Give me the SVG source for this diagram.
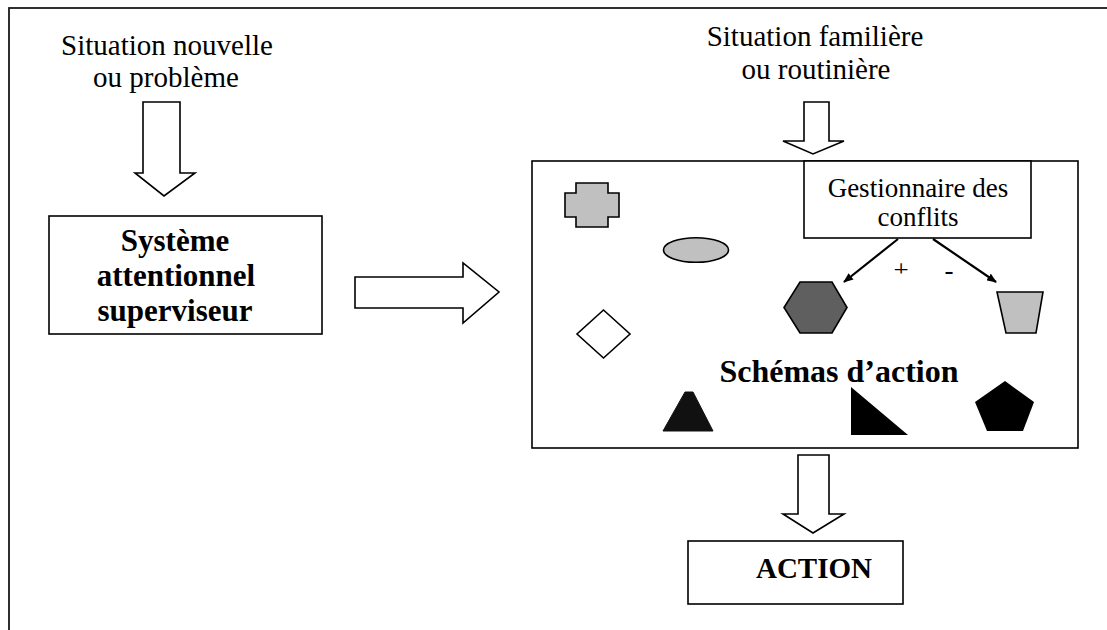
<svg xmlns="http://www.w3.org/2000/svg" width="1107" height="630" viewBox="0 0 1107 630">
<style>
text{font-family:'Liberation Serif','Times New Roman','DejaVu Serif',serif;fill:#000;text-anchor:middle}
.b{font-weight:bold}
.box{fill:#fff;stroke:#000;stroke-width:1.6}
.blk{fill:#fff;stroke:#000;stroke-width:1.6;stroke-linejoin:miter}
.sh{stroke:#000;stroke-width:1.6;stroke-linejoin:miter}
.ln{stroke:#000;stroke-width:2.2;fill:none}
</style>
<defs>
<marker id="ah" markerWidth="10" markerHeight="8" refX="9" refY="4" orient="auto" markerUnits="userSpaceOnUse" viewBox="0 0 10 8">
<path d="M0,0 L10,4 L0,8 Z" fill="#000"/>
</marker>
<clipPath id="plusclip"><rect x="880" y="250" width="40" height="23.5"/></clipPath>
</defs>
<rect width="1107" height="630" fill="#fff"/>
<rect id="frame" x="9" y="8" width="1120" height="640" fill="none" stroke="#1a1a1a" stroke-width="1.8"/>

<g id="label-nouvelle">
<text x="167" y="55" font-size="29">Situation nouvelle</text>
<text x="166" y="87" font-size="29">ou problème</text>
</g>
<g id="label-familiere">
<text x="815" y="46" font-size="29">Situation familière</text>
<text x="816" y="79" font-size="29">ou routinière</text>
</g>

<g id="sas">
<rect class="box" x="49" y="216" width="273" height="118"/>
<text class="b" x="175" y="251" font-size="31">Système</text>
<text class="b" x="176" y="286" font-size="31">attentionnel</text>
<text class="b" x="175" y="321" font-size="31">superviseur</text>
</g>

<g id="schemas">
<rect class="box" x="532" y="161" width="546" height="287"/>
<text class="b" x="839" y="382" font-size="32">Schémas d’action</text>
</g>

<g id="gestionnaire">
<rect class="box" x="804" y="161" width="227" height="77"/>
<text x="918" y="197" font-size="27">Gestionnaire des</text>
<text x="918" y="226" font-size="27">conflits</text>
</g>

<g id="shape-cross"><path class="sh" fill="#c0c0c0" d="M576,183 H608 V193 H619 V217 H608 V227 H576 V217 H565 V193 H576 Z"/></g>
<g id="shape-ellipse"><ellipse class="sh" fill="#c0c0c0" cx="696" cy="250" rx="32.5" ry="12.3"/></g>
<g id="shape-hexagon"><polygon class="sh" fill="#5f5f5f" points="800,282 832,282 847,307.5 832,333 800,333 784,307.5"/></g>
<g id="shape-diamond"><polygon class="sh" fill="#fff" points="603.5,310 630,334 603.5,358 577,334"/></g>
<g id="shape-trapezoid"><polygon class="sh" fill="#c0c0c0" points="997,292 1043,292 1036,333 1006,333"/></g>
<g id="shape-triangle"><polygon fill="#111" stroke="#111" stroke-width="1" points="685,392 693,392 713,431 663,431"/></g>
<g id="shape-righttriangle"><polygon fill="#000" points="851,387 908,435 851,435"/></g>
<g id="shape-pentagon"><polygon fill="#000" points="1005,381 1034,402 1023,431 987,431 975,402"/></g>

<g id="action">
<rect class="box" x="688" y="541" width="215" height="63"/>
<text class="b" x="814" y="578" font-size="29">ACTION</text>
</g>

<g id="connectors">
<polygon class="blk" points="143,102 180,102 180,173 195,173 164,196 135,173 143,173"/>
<polygon class="blk" points="804,102 829,102 829,141 844,141 813,154 783,141 804,141"/>
<polygon class="blk" points="355,277 463,277 463,263 499,292 463,323 463,308 355,308"/>
<polygon class="blk" points="798,455 829,455 829,514 844,514 813,533 783,514 798,514"/>
<line class="ln" x1="898" y1="239" x2="844" y2="282" marker-end="url(#ah)"/>
<line class="ln" x1="933" y1="239" x2="996" y2="282" marker-end="url(#ah)"/>
<text x="901" y="279" font-size="27" clip-path="url(#plusclip)">+</text>
<text x="949" y="279" font-size="27">-</text>
</g>
</svg>
